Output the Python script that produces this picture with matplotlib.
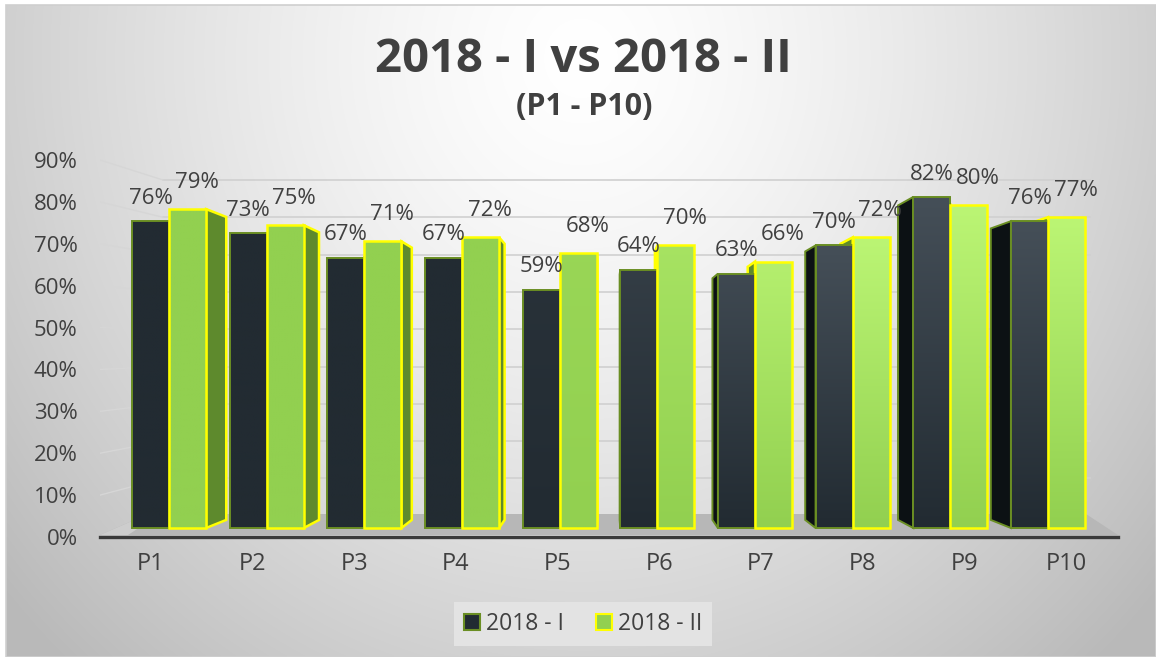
import numpy as np
import matplotlib
matplotlib.use("Agg")
import matplotlib.pyplot as plt
from matplotlib.patches import Rectangle, Polygon, Patch
from matplotlib.colors import to_rgb

plt.rcParams['font.family'] = ['Open Sans', 'DejaVu Sans']

# ---------------- data ----------------
categories = ['P1', 'P2', 'P3', 'P4', 'P5', 'P6', 'P7', 'P8', 'P9', 'P10']
series_names = ['2018 - I', '2018 - II']
values_2018_I = [76, 73, 67, 67, 59, 64, 63, 70, 82, 76]
values_2018_II = [79, 75, 71, 72, 68, 70, 66, 72, 80, 77]
y_ticks = [0, 10, 20, 30, 40, 50, 60, 70, 80, 90]
y_tick_labels = [f'{t}%' for t in y_ticks]
title = '2018 - I vs 2018 - II'
subtitle = '(P1 - P10)'

# ---------------- styles ----------------
TXT = '#404040'
DARK_BASE, DARK_LIGHT, DARK_SIDE, DARK_EDGE = '#222b32', '#454f58', '#0c1114', '#6a8e23'
GREEN_BASE, GREEN_LIGHT, GREEN_SIDE, GREEN_EDGE = '#92d050', '#bbf574', '#5e8a2d', '#ffff00'

W, H = 1156, 657
fig = plt.figure(figsize=(W / 100, H / 100), dpi=100)


def fx(px):
    return px / W


def fy(py):
    return 1 - py / H


# ---------------- background ----------------
bg = fig.add_axes([0, 0, 1, 1])
bg.set_zorder(-5)
bg.set_axis_off()
bg.set_xlim(0, 1)
bg.set_ylim(0, 1)
yy, xx = np.mgrid[0:1:220j, 0:1:420j]
d = np.sqrt(((xx - 0.5) / 0.55) ** 2 + ((yy - 0.08) / 1.05) ** 2)
g = 1 - 0.21 * np.clip(d, 0, 1.2) ** 1.4
bg.imshow(np.dstack([g, g, g]), extent=(fx(6), 1, 0, fy(5)), aspect='auto',
          origin='upper', interpolation='bilinear')
bg.add_patch(Rectangle((fx(6), 0), 1 - fx(6), fy(5), fill=False,
                       edgecolor='#cfcfcf', lw=1.2))

# ---------------- main (bar) axes ----------------
ax = fig.add_axes([fx(100), fy(537), fx(1118) - fx(100), fy(124.3) - fy(537)])
ax.patch.set_alpha(0)
XLIM = ((100 - 169) / 97.67, (1118 - 169) / 97.67)
YLIM = ((528 - 537) / 4.037, 100)
ax.set_xlim(*XLIM)
ax.set_ylim(*YLIM)
for s in ['top', 'right', 'left']:
    ax.spines[s].set_visible(False)
ax.spines['bottom'].set_color('#3a3a3a')
ax.spines['bottom'].set_linewidth(2.4)
ax.spines['bottom'].set_zorder(6)
ax.tick_params(axis='y', left=False, labelleft=False)

n = len(categories)
x = np.arange(n)
center = (n - 1) / 2
xt = center + (x - center) * 1.0413
ax.set_xticks(xt, categories)
ax.tick_params(axis='x', length=0, pad=11, labelsize=17, labelcolor=TXT)

# label axes for the y tick labels (front plane)
ax2 = fig.add_axes(ax.get_position().bounds)
ax2.patch.set_alpha(0)
ax2.set_ylim(0, (537 - 124.3) / 4.189)
ax2.set_xlim(0, 1)
for s in ax2.spines.values():
    s.set_visible(False)
ax2.set_xticks([])
ax2.set_yticks(y_ticks, y_tick_labels)
ax2.tick_params(axis='y', length=0, pad=16, labelsize=16, labelcolor=TXT)


def to_data(px, py):
    return ax.transData.inverted().transform((px, H - py))


# floor
fl = [to_data(100, 535), to_data(1118, 535), to_data(1086, 514), to_data(148, 514)]
ax.add_patch(Polygon(fl, closed=True, facecolor='#b7b7b7', edgecolor='none', zorder=1))
fl2 = [to_data(100, 535), to_data(128, 535), to_data(160, 514), to_data(148, 514)]
ax.add_patch(Polygon(fl2, closed=True, facecolor='#cdcdcd', edgecolor='none', zorder=1.1))

# perspective model
VP = (center, 40.0)
F_SIDE = 0.05
F_BACK = 0.076

# back-wall gridlines and left-wall lines
xL = to_data(163, 0)[0]
xR = to_data(1090, 0)[0]
for t in y_ticks[1:]:
    yb = t + F_BACK * (VP[1] - t)
    ax.plot([xL, xR], [yb, yb], color='#d0d0d0', lw=1.2, zorder=0.5)
    yf = ax.transData.inverted().transform(ax2.transData.transform((0, t)))[1]
    ax.plot([XLIM[0], xL], [yf, yb], color='#d6d6d6', lw=1.0, zorder=0.5)

w = 0.38
series = [
    (values_2018_I, -w, DARK_BASE, DARK_LIGHT, DARK_SIDE, DARK_EDGE, 1.4, 3.0, (0, 12.5)),
    (values_2018_II, 0.0, GREEN_BASE, GREEN_LIGHT, GREEN_SIDE, GREEN_EDGE, 1.8, 3.5, (6.5, 15.5)),
]


def side_face(xe, v):
    xb = xe + F_SIDE * (VP[0] - xe)
    return [(xe, 0), (xe, v), (xb, v + F_SIDE * (VP[1] - v)), (xb, F_SIDE * VP[1])]


for vals, off, base, light, side, edge, elw, zf, lab_off in series:
    cb, cl = np.array(to_rgb(base)), np.array(to_rgb(light))
    for i, v in enumerate(vals):
        xl = x[i] + off
        xr = xl + w
        # visible side face (facing the vanishing point)
        if xr < VP[0]:
            ax.add_patch(Polygon(side_face(xr, v), closed=True, facecolor=side,
                                 edgecolor=edge, lw=elw, joinstyle='miter', zorder=2))
        elif xl > VP[0]:
            ax.add_patch(Polygon(side_face(xl, v), closed=True, facecolor=side,
                                 edgecolor=edge, lw=elw, joinstyle='miter', zorder=2))
        # front face with vertical gradient
        a = np.clip((i - 3.5) / 3.0, 0, 1)
        top = cb + (cl - cb) * a
        t = np.linspace(0, 1, 64)[:, None, None]
        grad = cb[None, None, :] * (1 - t) + top[None, None, :] * t
        rect = Rectangle((xl, 0), w, v, facecolor=base, edgecolor='none', zorder=zf)
        ax.add_patch(rect)
        im = ax.imshow(grad, extent=(xl, xr, 0, v), origin='lower', aspect='auto',
                       interpolation='bilinear', zorder=zf + 0.1)
        im.set_clip_path(rect)
        ax.add_patch(Rectangle((xl, 0), w, v, fill=False, edgecolor=edge, lw=elw,
                               joinstyle='miter', zorder=zf + 0.2))
        ax.annotate(f'{v}%', (xl + w / 2, v), xytext=lab_off, textcoords='offset points',
                    ha='center', va='baseline', fontsize=16, color=TXT, zorder=8)

ax.set_xlim(*XLIM)
ax.set_ylim(*YLIM)

# ---------------- titles ----------------
fig.text(fx(583.5), fy(72), title, ha='center', va='baseline', fontsize=34,
         fontweight='bold', color=TXT)
fig.text(fx(584.5), fy(115), subtitle, ha='center', va='baseline', fontsize=22,
         fontweight='bold', color=TXT)

# ---------------- legend ----------------
handles = [Patch(facecolor=DARK_BASE, edgecolor=DARK_EDGE, lw=1.5),
           Patch(facecolor=GREEN_BASE, edgecolor=GREEN_EDGE, lw=1.5)]
leg = fig.legend(handles, series_names, loc='center', bbox_to_anchor=(fx(583), fy(624)),
                 ncol=2, frameon=True, facecolor='#e3e3e3', edgecolor='none', framealpha=1,
                 fancybox=False, fontsize=16.5, handlelength=0.7, handleheight=0.7,
                 handletextpad=0.25, columnspacing=1.4, borderpad=0.45, labelcolor=TXT)

fig.savefig('out.png', dpi=100)
